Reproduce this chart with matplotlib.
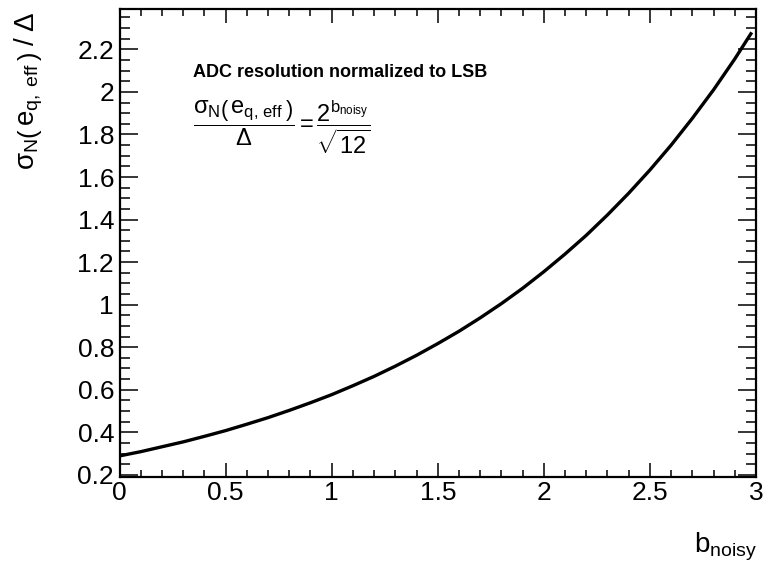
import matplotlib
matplotlib.use("Agg")
import matplotlib.pyplot as plt
from matplotlib.ticker import MultipleLocator

# values
b_noisy = [0.0, 0.1, 0.2, 0.3, 0.4, 0.5, 0.6, 0.7, 0.8, 0.9, 1.0,
           1.1, 1.2, 1.3, 1.4, 1.5, 1.6, 1.7, 1.8, 1.9, 2.0,
           2.1, 2.2, 2.3, 2.4, 2.5, 2.6, 2.7, 2.8, 2.9, 2.98]
sigma_over_lsb = [0.289, 0.309, 0.332, 0.355, 0.381, 0.408, 0.438, 0.469, 0.503, 0.539, 0.577,
                  0.619, 0.663, 0.711, 0.762, 0.817, 0.875, 0.938, 1.005, 1.077, 1.155,
                  1.238, 1.326, 1.422, 1.524, 1.633, 1.750, 1.876, 2.010, 2.155, 2.28]

xticks = [0, 0.5, 1, 1.5, 2, 2.5, 3]
xticklabels = ['0', '0.5', '1', '1.5', '2', '2.5', '3']
yticks = [0.2, 0.4, 0.6, 0.8, 1.0, 1.2, 1.4, 1.6, 1.8, 2.0, 2.2]
yticklabels = ['0.2', '0.4', '0.6', '0.8', '1', '1.2', '1.4', '1.6', '1.8', '2', '2.2']

plt.rcParams['font.family'] = ['Liberation Sans', 'DejaVu Sans']
plt.rcParams['mathtext.fontset'] = 'custom'
plt.rcParams['mathtext.rm'] = 'Liberation Sans'
plt.rcParams['mathtext.it'] = 'Liberation Sans'
plt.rcParams['mathtext.bf'] = 'Liberation Sans:bold'

fig = plt.figure(figsize=(7.64, 5.65), dpi=100)
ax = fig.add_axes([0.1565, 0.1558, 0.8330, 0.8283])

ax.plot(b_noisy, sigma_over_lsb, color='black', lw=2.4, solid_capstyle='butt')

ax.set_xlim(0, 3)
ax.set_ylim(0.19, 2.39)
ax.xaxis.set_minor_locator(MultipleLocator(0.1))
ax.yaxis.set_minor_locator(MultipleLocator(0.05))
ax.set_xticks(xticks)
ax.set_xticklabels(xticklabels)
ax.set_yticks(yticks)
ax.set_yticklabels(yticklabels)

ax.tick_params(which='both', direction='in', top=True, right=True, labelsize=19, width=1.1)
ax.tick_params(axis='x', which='major', length=10, pad=3)
ax.tick_params(axis='x', which='minor', length=5)
ax.tick_params(axis='y', which='major', length=13, pad=4)
ax.tick_params(axis='y', which='minor', length=7)
for s in ax.spines.values():
    s.set_linewidth(1.6)

fig.text(0.037, 0.979, r'$\sigma_{N}\left(\,e_{q,\;eff}\,\right)\;/\;\Delta$',
         rotation=90, ha='center', va='top', fontsize=20)
fig.text(0.991, 0.033, r'$b_{noisy}$', ha='right', va='center', fontsize=20)

ax.text(0.115, 0.865, 'ADC resolution normalized to LSB', transform=ax.transAxes,
        fontsize=13, fontweight='bold', va='center')
ax.text(0.115, 0.745, r'$\dfrac{\sigma_{N}\left(\,e_{q,\,eff}\,\right)}{\Delta}=\dfrac{2^{b_{noisy}}}{\sqrt{12}}$',
        transform=ax.transAxes, fontsize=17, va='center')

fig.savefig('out.png', dpi=100)
